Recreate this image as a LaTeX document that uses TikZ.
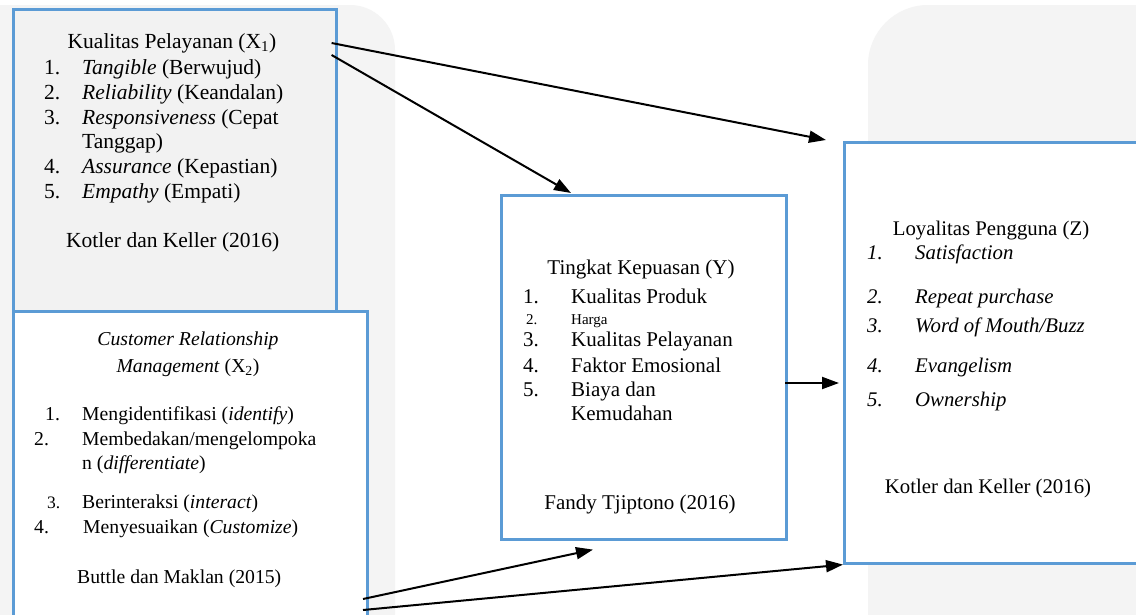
\documentclass[tikz,border=0pt]{standalone}
\usepackage{fontspec}
\setmainfont{Liberation Serif}
\usetikzlibrary{arrows.meta,calc}
\definecolor{boxblue}{HTML}{5B9BD5}
\definecolor{wm}{HTML}{F4F4F4}
\definecolor{xfill}{HTML}{F2F2F2}
\begin{document}
\begin{tikzpicture}[x=1pt,y=-1pt,
  box/.style={draw=boxblue,line width=2.6pt,rectangle,inner sep=0pt,anchor=north west},
  txt/.style={anchor=base west,inner sep=0pt},
  ctxt/.style={anchor=base,inner sep=0pt},
  fa/.style={font=\fontsize{21.5}{24}\selectfont},
  fb/.style={font=\fontsize{19.7}{24}\selectfont},
  fc/.style={font=\fontsize{21}{24}\selectfont},
  fd/.style={font=\fontsize{20.8}{24}\selectfont},
  small/.style={anchor=base west,inner sep=0pt,font=\fontsize{15}{18}\selectfont},
  arr/.style={-{Triangle[length=17pt,width=12pt]},line width=2pt,black}]
\useasboundingbox (0,0) rectangle (1136,614);
\clip (0,0) rectangle (1136,614);
\fill[white] (0,0) rectangle (1136,614);
% watermark shapes
\fill[wm,rounded corners=45pt] (-50,5) rectangle (395,700);
\fill[wm,rounded corners=60pt] (868,5) rectangle (1250,700);

% boxes
\node[box,fill=xfill,minimum width=323pt,minimum height=302pt] (x1) at (12,8) {};
\node[box,fill=white,minimum width=354pt,minimum height=340pt] (x2) at (12,310) {};
\node[box,fill=white,minimum width=285pt,minimum height=344pt] (y) at (500,194) {};
\node[box,fill=white,minimum width=320pt,minimum height=421pt] (z) at (843,141) {};

% X1 text
\begin{scope}[every node/.append style={fa}]
\node[ctxt] (x1t) at (172,48) {Kualitas Pelayanan (X\textsubscript{1})};
\node[txt] (x1n1) at (44,74) {1.};  \node[txt] (x1i1) at (82,74) {\textit{Tangible} (Berwujud)};
\node[txt] (x1n2) at (44,99) {2.};  \node[txt] (x1i2) at (82,99) {\textit{Reliability} (Keandalan)};
\node[txt] (x1n3) at (44,124) {3.}; \node[txt] (x1i3) at (82,124) {\textit{Responsiveness} (Cepat};
\node[txt] (x1i3b) at (82,148) {Tanggap)};
\node[txt] (x1n4) at (44,173) {4.}; \node[txt] (x1i4) at (82,173) {\textit{Assurance} (Kepastian)};
\node[txt] (x1n5) at (44,198) {5.}; \node[txt] (x1i5) at (82,198) {\textit{Empathy} (Empati)};
\node[txt] (x1s) at (66,247) {Kotler dan Keller (2016)};
\end{scope}

% X2 text
\begin{scope}[every node/.append style={fb}]
\node[ctxt] (x2t1) at (188,345) {\textit{Customer Relationship}};
\node[ctxt] (x2t2) at (188,372) {\textit{Management} (X\textsubscript{2})};
\node[txt] (x2n1) at (45,420) {1.}; \node[txt] (x2i1) at (82,420) {Mengidentifikasi (\textit{identify})};
\node[txt] (x2n2) at (34,445) {2.}; \node[txt] (x2i2) at (82,445) {Membedakan/mengelompoka};
\node[txt] (x2i2b) at (82,469) {n (\textit{differentiate})};
\node[txt,font=\fontsize{17.5}{22}\selectfont] (x2n3) at (47,508) {3.}; \node[txt] (x2i3) at (82,508) {Berinteraksi (\textit{interact})};
\node[txt] (x2n4) at (34,533) {4.}; \node[txt] (x2i4) at (83,533) {Menyesuaikan (\textit{Customize})};
\node[txt] (x2s) at (77,583) {Buttle dan Maklan (2015)};
\end{scope}

% Y text
\begin{scope}[every node/.append style={fc}]
\node[ctxt] (yt) at (641,274) {Tingkat Kepuasan (Y)};
\node[txt] (yn1) at (523,303) {1.}; \node[txt] (yi1) at (571,303) {Kualitas Produk};
\node[small] (yn2) at (526,324) {2.}; \node[small] (yi2) at (571,324) {Harga};
\node[txt] (yn3) at (523,346) {3.}; \node[txt] (yi3) at (571,346) {Kualitas Pelayanan};
\node[txt] (yn4) at (523,372) {4.}; \node[txt] (yi4) at (571,372) {Faktor Emosional};
\node[txt] (yn5) at (523,396) {5.}; \node[txt] (yi5) at (571,396) {Biaya dan};
\node[txt] (yi5b) at (571,420) {Kemudahan};
\node[ctxt] (ys) at (640,509) {Fandy Tjiptono (2016)};
\end{scope}

% Z text
\begin{scope}[every node/.append style={fd}]
\node[ctxt] (zt) at (991,235) {Loyalitas Pengguna (Z)};
\node[txt] (zn1) at (867,259) {\textit{1.}}; \node[txt] (zi1) at (915,259) {\textit{Satisfaction}};
\node[txt] (zn2) at (867,303) {\textit{2.}}; \node[txt] (zi2) at (915,303) {\textit{Repeat purchase}};
\node[txt] (zn3) at (867,332) {\textit{3.}}; \node[txt] (zi3) at (915,332) {\textit{Word of Mouth/Buzz}};
\node[txt] (zn4) at (867,372) {\textit{4.}}; \node[txt] (zi4) at (915,372) {\textit{Evangelism}};
\node[txt] (zn5) at (867,406) {\textit{5.}}; \node[txt] (zi5) at (915,406) {\textit{Ownership}};
\node[ctxt] (zs) at (988,493) {Kotler dan Keller (2016)};
\end{scope}

% connector endpoints
\coordinate (a1s) at ($(x1.north east)+(-6,35)$);
\coordinate (a1e) at ($(z.north west)+(-17,-1)$);
\coordinate (a2s) at ($(x1.north east)+(-6,47)$);
\coordinate (a2e) at ($(y.north west)+(71,-1)$);
\coordinate (a3s) at (785,383);
\coordinate (a3e) at (839,383);
\coordinate (a4s) at (363,599);
\coordinate (a4e) at ($(y.south west)+(93,9)$);
\coordinate (a5s) at (363,610);
\coordinate (a5e) at ($(z.south west)+(0,0)$);

\draw[arr] (a1s) -- (a1e);
\draw[arr] (a2s) -- (a2e);
\draw[arr] (a3s) -- (a3e);
\draw[arr] (a4s) -- (a4e);
\draw[arr] (a5s) -- (a5e);
\end{tikzpicture}
\end{document}
